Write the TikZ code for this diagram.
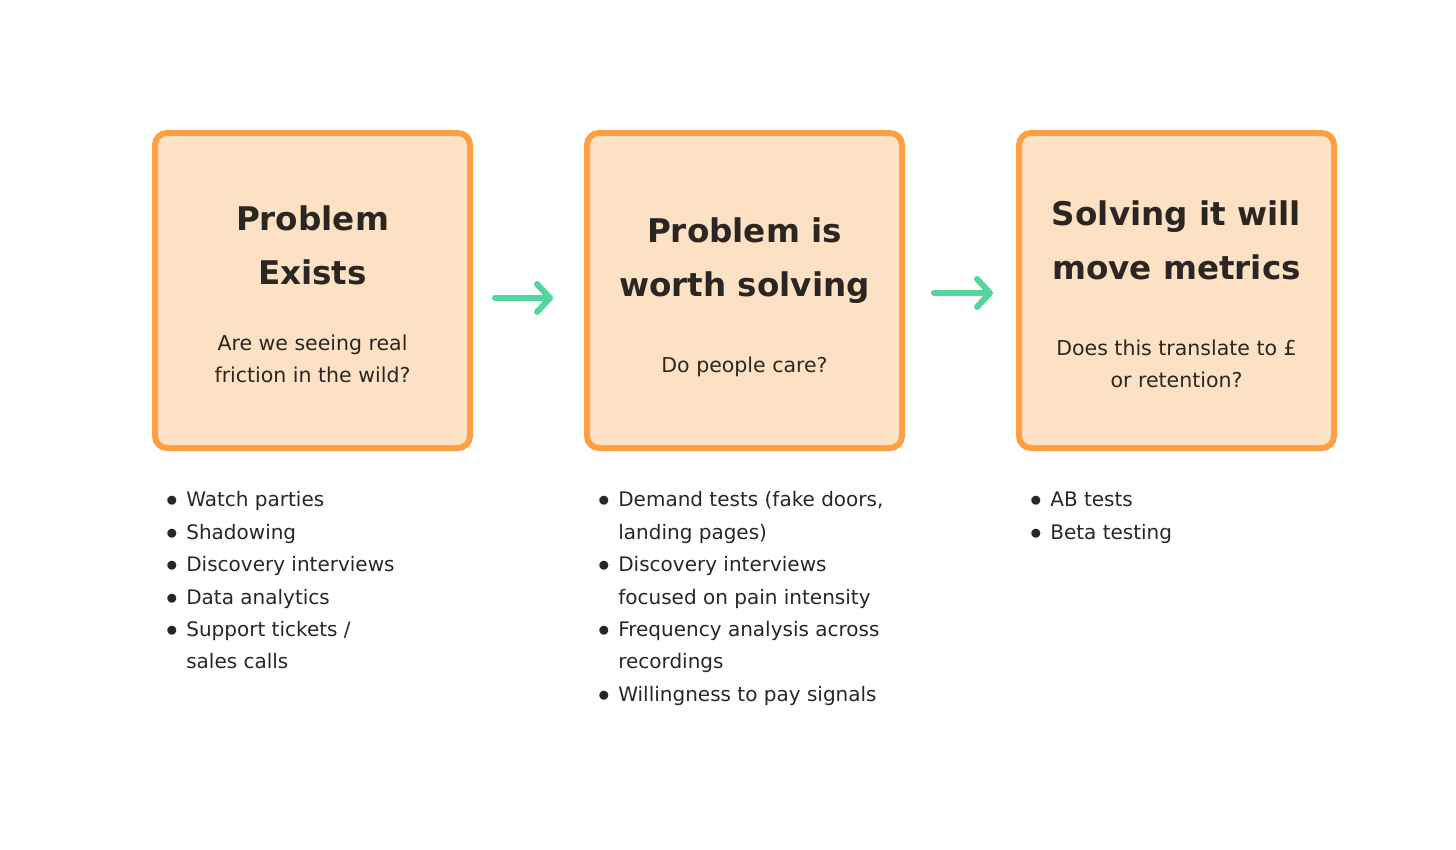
\documentclass[tikz,border=0pt]{standalone}
\usepackage{fontspec}
\setmainfont{DejaVu Sans}
\usetikzlibrary{positioning,arrows.meta}
\definecolor{boxfill}{HTML}{FDE1C4}
\definecolor{boxline}{HTML}{FF9F43}
\definecolor{flowgreen}{HTML}{52D69B}
\definecolor{ink}{HTML}{2B2622}
\newcommand{\headfont}{\fontsize{32.6}{54}\selectfont\bfseries}
\newcommand{\askfont}{\fontsize{20.5}{32}\selectfont}
\newcommand{\itemfont}{\fontsize{20}{32.4}\selectfont}
\newcommand{\blt}{\scalebox{1.12}{$\bullet$}}

\begin{document}
\begin{tikzpicture}[x=1pt,y=-1pt,text=ink,
    stage/.style={draw=boxline,fill=boxfill,line width=6pt,rounded corners=12pt,
      minimum width=315pt,minimum height=315pt,inner sep=0pt,outer sep=3pt},
    heading/.style={align=center,font=\headfont,inner sep=0pt},
    ask/.style={align=center,font=\askfont,inner sep=0pt},
    checks/.style={anchor=north west,inner sep=0pt,font=\itemfont},
    flow/.style={draw=flowgreen,line width=6pt,line cap=round,
      -{Straight Barb[length=13pt,width=28pt,line cap=round,line join=round]}}]
  \useasboundingbox (0,0) rectangle (1456,850);

  % three stages
  \node[stage] (p1) at (312.5,290.5) {};
  \node[stage,right=111pt of p1] (p2) {};
  \node[stage,right=111pt of p2] (p3) {};

  \node[heading] (t1) at ([yshift=45pt]p1.center) {Problem\\Exists};
  \node[ask] (q1) at ([yshift=-68.5pt]p1.center) {Are we seeing real\\friction in the wild?};
  \node[heading] (t2) at ([yshift=29.5pt]p2.center) {Problem is\\worth solving};
  \node[ask] (q2) at ([yshift=-76pt]p2.center) {Do people care?};
  \node[heading] (t3) at ([yshift=50.5pt]p3.center) {Solving it will\\move metrics};
  \node[ask] (q3) at ([yshift=-73.5pt]p3.center) {Does this translate to £\\or retention?};

  \draw[flow,shorten <=22pt,shorten >=31pt] ([yshift=-7.5pt]p1.east) -- ([yshift=-7.5pt]p2.west);
  \draw[flow,shorten <=29pt,shorten >=23pt] ([yshift=-2.5pt]p2.east) -- ([yshift=-2.5pt]p3.west);

  % how to check each stage
  \node[checks,below right=33pt and 14pt of p1.south west] (c1) {%
    \begin{tabular}{@{}l@{\hspace{8.5pt}}l@{}}
      \blt & Watch parties\\
      \blt & Shadowing\\
      \blt & Discovery interviews\\
      \blt & Data analytics\\
      \blt & Support tickets /\\
           & sales calls
    \end{tabular}};
  \node[checks,below right=33pt and 14pt of p2.south west] (c2) {%
    \begin{tabular}{@{}l@{\hspace{8.5pt}}l@{}}
      \blt & Demand tests (fake doors,\\
           & landing pages)\\
      \blt & Discovery interviews\\
           & focused on pain intensity\\
      \blt & Frequency analysis across\\
           & recordings\\
      \blt & Willingness to pay signals
    \end{tabular}};
  \node[checks,below right=33pt and 14pt of p3.south west] (c3) {%
    \begin{tabular}{@{}l@{\hspace{8.5pt}}l@{}}
      \blt & AB tests\\
      \blt & Beta testing
    \end{tabular}};
\end{tikzpicture}
\end{document}
